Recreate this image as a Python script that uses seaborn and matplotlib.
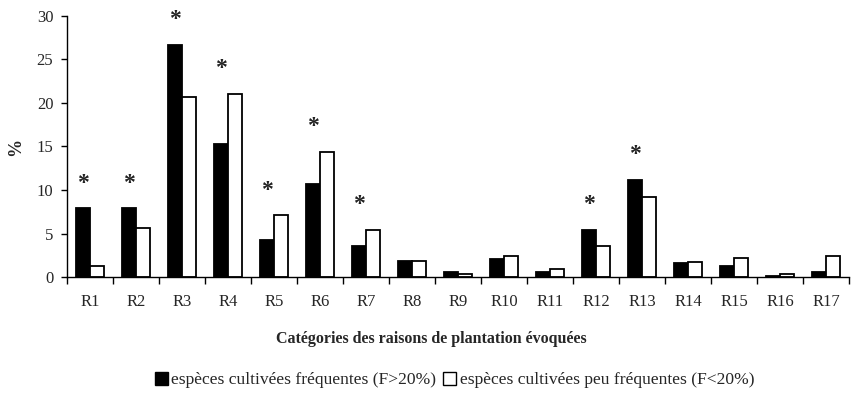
import numpy as np
import pandas as pd
import matplotlib
matplotlib.use("Agg")
import matplotlib.pyplot as plt
from matplotlib.patches import Patch
import seaborn as sns

categories = [f"R{i}" for i in range(1, 18)]
frequentes = [7.9, 7.9, 26.6, 15.3, 4.3, 10.7, 3.6, 1.9, 0.6, 2.1, 0.6, 5.4, 11.2, 1.6, 1.3, 0.2, 0.6]
peu_frequentes = [1.3, 5.7, 20.7, 21.0, 7.1, 14.4, 5.4, 1.9, 0.4, 2.4, 1.0, 3.6, 9.2, 1.8, 2.2, 0.4, 2.4]
significatifs = ["R1", "R2", "R3", "R4", "R5", "R6", "R7", "R12", "R13"]

lab_f = "espèces cultivées fréquentes (F>20%)"
lab_p = "espèces cultivées peu fréquentes (F<20%)"

df = pd.DataFrame({
    "cat": categories * 2,
    "val": frequentes + peu_frequentes,
    "groupe": [lab_f] * len(categories) + [lab_p] * len(categories),
})

sns.set_theme(style="white")
plt.rcParams["font.family"] = ["Liberation Serif", "DejaVu Serif"]

fig = plt.figure(figsize=(8.51, 4.01), dpi=100)
ax = fig.add_axes([0.079, 0.3085, 0.919, 0.6525])

sns.barplot(data=df, x="cat", y="val", hue="groupe", order=categories,
            hue_order=[lab_f, lab_p], palette=["black", "white"],
            width=0.6, dodge=True, gap=0, edgecolor="black", linewidth=1.3,
            legend=False, ax=ax)

# asterisks above significant categories, centred on the first bar
for i, c in enumerate(categories):
    if c in significatifs:
        top = max(frequentes[i], peu_frequentes[i])
        ax.text(i - 0.15, top + 2.9, "*", ha="center", va="center",
                fontsize=17, fontweight="bold", color="#222222")

ax.set_xlim(-0.5, len(categories) - 0.5)
ax.set_ylim(0, 30)
ax.set_yticks(np.arange(0, 31, 5))
ax.tick_params(axis="y", which="major", direction="out", length=4, width=1,
               color="black", labelsize=12, pad=6, left=True)
ax.tick_params(axis="x", which="major", length=0, labelsize=12, pad=12)
ax.set_xticks(np.arange(-0.5, len(categories), 1.0), minor=True)
ax.tick_params(axis="x", which="minor", direction="out", length=5, width=1,
               color="black", bottom=True)

for s in ["top", "right"]:
    ax.spines[s].set_visible(False)
for s in ["left", "bottom"]:
    ax.spines[s].set_color("black")
    ax.spines[s].set_linewidth(1.0)

ax.set_ylabel("%", fontsize=13, fontweight="bold", labelpad=9)
ax.set_xlabel("Catégories des raisons de plantation évoquées", fontsize=11.5,
              fontweight="bold")
ax.xaxis.set_label_coords(0.465, -0.205)

handles = [Patch(facecolor="black", edgecolor="black", label=lab_f),
           Patch(facecolor="white", edgecolor="black", label=lab_p)]
fig.legend(handles=handles, loc="center", bbox_to_anchor=(0.534, 0.052),
           ncol=2, frameon=False, fontsize=12.6, handlelength=0.75,
           handleheight=0.75, handletextpad=0.2, columnspacing=0.4)

fig.savefig("out.png", dpi=100, facecolor="white")
